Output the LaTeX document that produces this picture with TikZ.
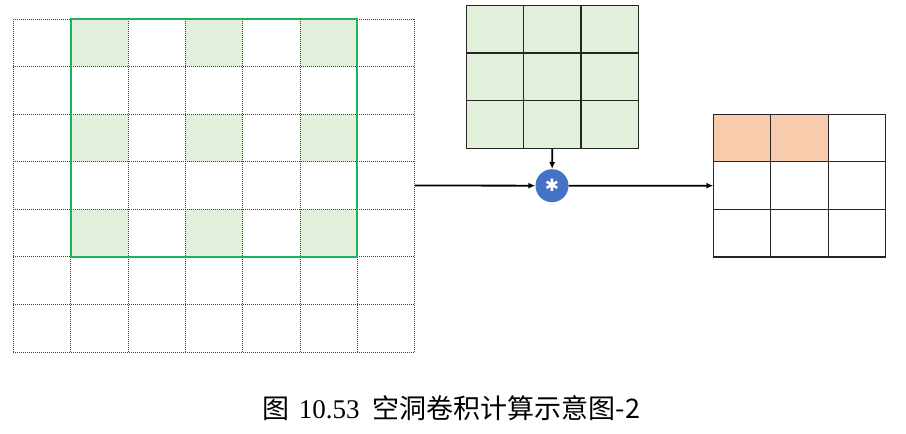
\documentclass[tikz,border=0pt]{standalone}
\usepackage{fontspec}
\setmainfont{Liberation Serif}
\newfontfamily\cjk{Noto Sans CJK SC}
\newfontfamily\symfont{DejaVu Sans}
\usetikzlibrary{arrows.meta}
\definecolor{kerngreen}{HTML}{E2EFDA}
\definecolor{fieldgreen}{HTML}{1BB35E}
\definecolor{outorange}{HTML}{F8CBAD}
\definecolor{convblue}{HTML}{4472C4}
\tikzset{
  -tip-/.style={-{Latex[length=7pt,width=6pt]},line width=1.8pt},
  dotline/.style={dash pattern=on 1pt off 1pt,line width=0.8pt,color=black!75},
  cellline/.style={line width=1.1pt,color=black!85},
  gridbox/.style={inner sep=0pt,outer sep=0pt}
}

\begin{document}
\begin{tikzpicture}[x=1pt,y=-1pt]
    \useasboundingbox (0,0) rectangle (906,434);

    % Grid outlines
    \node[gridbox,minimum width=401.45pt,minimum height=333pt] (input) at (214.03,185.5) {};
    \node[gridbox,minimum width=172pt,minimum height=143pt] (kernel) at (552.3,76.8) {};
    \node[gridbox,minimum width=172.4pt,minimum height=142.7pt] (output) at (799.5,185.65) {};

    % Input: dilated cells
    \foreach \i in {1,3,5}
        \foreach \j in {0,2,4}
            \fill[kerngreen] (13.3+57.35*\i,19+47.57*\j) rectangle ++(57.35,47.57);
    % Input grid
    \foreach \i in {0,...,7} {
        \draw[dotline] (13.3+57.35*\i,19) -- (13.3+57.35*\i,352);
        \draw[dotline] (13.3,19+47.57*\i) -- (414.75,19+47.57*\i);
    }
    % Receptive field
    \draw[fieldgreen,line width=2.2pt] (70.65,19) rectangle (356.75,257);

    % Kernel
    \fill[kerngreen] (kernel.north west) rectangle (kernel.south east);
    \foreach \i in {1,2} {
        \draw[cellline] (466.3+57.33*\i,5.3) -- (466.3+57.33*\i,148.3);
        \draw[cellline] (466.3,5.3+47.67*\i) -- (638.3,5.3+47.67*\i);
    }
    \draw[cellline,line width=1.3pt] (kernel.north west) rectangle (kernel.south east);

    % Output
    \fill[outorange] (713.3,114.3) rectangle (828.24,161.87);
    \foreach \i in {1,2} {
        \draw[cellline] (713.3+57.47*\i,114.3) -- (713.3+57.47*\i,257);
        \draw[cellline] (713.3,114.3+47.57*\i) -- (885.7,114.3+47.57*\i);
    }
    \draw[cellline,line width=1.3pt] (output.north west) rectangle (output.south east);

    % Convolution
    \node[circle,fill=convblue,minimum size=33pt,inner sep=0pt,text=white,
          font=\symfont\fontsize{17}{17}\selectfont] (conv) at (552,185.7) {✱};

    % Arrows
    \draw[-tip-] (input.east) -- (conv);
    \draw[-tip-] (kernel.south) -- (conv);
    \draw[-tip-] (conv) -- (output.west);

    % Caption
    \node[anchor=base,inner sep=0pt,font=\fontsize{27}{30}\selectfont] (caption) at (451.5,418)
        {{\cjk 图}\hspace{9pt}10.53\hspace{13pt}{\cjk 空洞卷积计算示意图-2}};
\end{tikzpicture}
\end{document}
